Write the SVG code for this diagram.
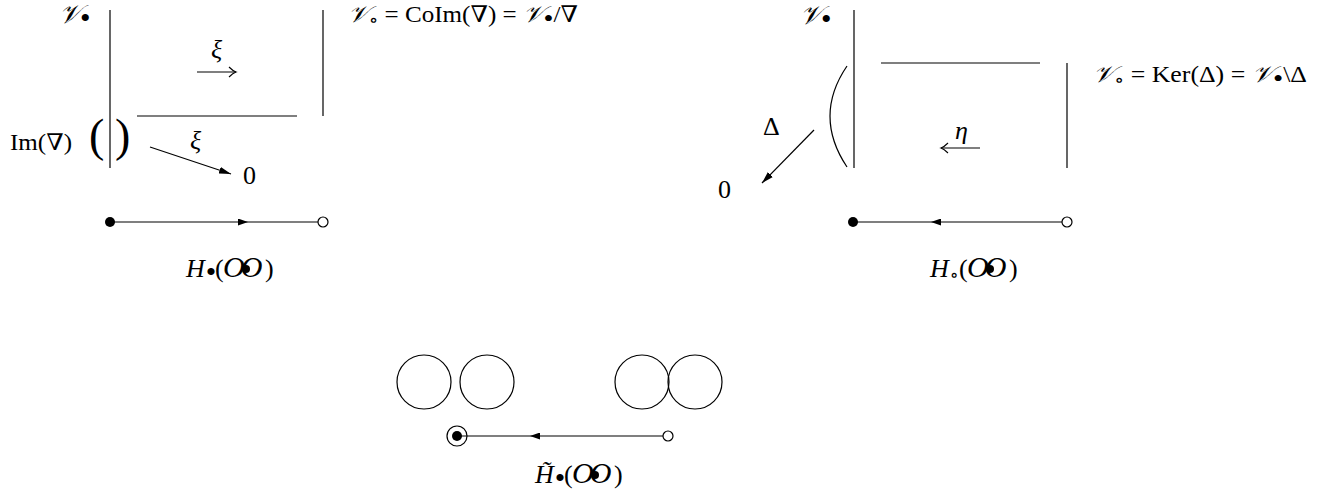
<svg xmlns="http://www.w3.org/2000/svg" width="1320" height="500" viewBox="0 0 1320 500">
<style>
text{font-family:"Liberation Serif","DejaVu Serif",serif;fill:#000}
.big{font-size:26px}
.sm{font-size:23px}
.it{font-style:italic}
.ln{stroke:#000;stroke-width:1.2;fill:none}
.bul{font-size:30px;font-style:normal}
.bs{font-size:26px;font-style:normal}
.ring{font-size:18px;font-style:normal}
.O{font-size:30px;font-style:italic;letter-spacing:-4px}
.circ{stroke:#000;stroke-width:1.2;fill:none}
</style>
<defs>
<marker id="tri" viewBox="0 0 12 8" refX="12" refY="4" markerWidth="12" markerHeight="8" markerUnits="userSpaceOnUse" orient="auto"><path d="M0,0.5 L12,4 L0,7.5 z" fill="#000"/></marker>
<marker id="trim" viewBox="0 0 10 7" refX="10" refY="3.5" markerWidth="10" markerHeight="7" markerUnits="userSpaceOnUse" orient="auto"><path d="M0,0 L10,3.5 L0,7 z" fill="#000"/></marker>
<marker id="hook" viewBox="-9 -6 11 12" refX="0" refY="0" markerWidth="11" markerHeight="12" markerUnits="userSpaceOnUse" orient="auto"><path d="M-7,-5 Q-3,-1 0,0 Q-3,1 -7,5" fill="none" stroke="#000" stroke-width="1.1"/></marker>
</defs>
<rect width="1320" height="500" fill="#fff"/>

<g id="connectors">
<line class="ln" x1="110" y1="10" x2="110" y2="168"/>
<line class="ln" x1="323" y1="10" x2="323" y2="116"/>
<line class="ln" x1="137" y1="116" x2="297" y2="116"/>
<line class="ln" x1="197" y1="72" x2="236" y2="72" marker-end="url(#hook)"/>
<line class="ln" x1="150" y1="147" x2="231" y2="174" marker-end="url(#tri)"/>
<path class="ln" d="M110,222 L248,222 L318,222" marker-mid="url(#trim)"/>
<line class="ln" x1="854" y1="10" x2="854" y2="168"/>
<line class="ln" x1="1067" y1="63" x2="1067" y2="168"/>
<line class="ln" x1="881" y1="63" x2="1040" y2="63"/>
<path class="ln" d="M847,66 Q813,116 847,167"/>
<line class="ln" x1="980" y1="148" x2="941" y2="148" marker-end="url(#hook)"/>
<line class="ln" x1="814" y1="130" x2="762" y2="183" marker-end="url(#tri)"/>
<path class="ln" d="M1062,222 L931,222 L853,222" marker-mid="url(#trim)"/>
<path class="ln" d="M663,436 L530,436 L457,436" marker-mid="url(#trim)"/>
</g>

<g id="left-V">
<text class="big it" x="59" y="23">𝒱<tspan class="bul" dx="-1" dy="5">•</tspan></text>
</g>
<g id="left-xi-top"><text class="big it" x="211" y="58">ξ</text></g>
<g id="left-im">
<text class="sm" x="10" y="150" textLength="62" lengthAdjust="spacingAndGlyphs">Im(∇)</text>
<text x="89" y="151" font-size="46">(</text>
<text x="115" y="151" font-size="46">)</text>
</g>
<g id="left-xi-bottom"><text class="big it" x="190" y="149">ξ</text></g>
<g id="left-zero"><text class="big" x="243" y="184">0</text></g>
<g id="left-coim">
<text class="sm" x="348" y="22" textLength="230" lengthAdjust="spacingAndGlyphs"><tspan class="it">𝒱</tspan><tspan class="ring" dy="4">∘</tspan><tspan dy="-4"> = CoIm(∇) = </tspan><tspan class="it">𝒱</tspan><tspan class="bs" dy="5">•</tspan><tspan dy="-5">/∇</tspan></text>
</g>
<g id="left-H">
<circle cx="110" cy="222" r="5" fill="#000"/>
<circle cx="323" cy="222" r="5" fill="#fff" stroke="#000" stroke-width="1.2"/>
<text class="big" x="186" y="277"><tspan class="it">H</tspan><tspan class="bul" dx="1" dy="5">•</tspan><tspan dy="-5" x="215">(</tspan><tspan class="O" x="223">OO</tspan><tspan x="265">)</tspan></text>
<circle cx="246" cy="269" r="4" fill="#000"/>
</g>

<g id="right-V">
<text class="big it" x="800" y="24">𝒱<tspan class="bul" dx="-1" dy="5">•</tspan></text>
</g>
<g id="right-delta"><text class="big" x="763" y="135">Δ</text></g>
<g id="right-zero"><text class="big" x="718" y="198">0</text></g>
<g id="right-eta"><text class="big it" x="955" y="139">η</text></g>
<g id="right-ker">
<text class="sm" x="1093" y="82" textLength="214" lengthAdjust="spacingAndGlyphs"><tspan class="it">𝒱</tspan><tspan class="ring" dy="4">∘</tspan><tspan dy="-4"> = Ker(Δ) = </tspan><tspan class="it">𝒱</tspan><tspan class="bs" dy="5">•</tspan><tspan dy="-5">\Δ</tspan></text>
</g>
<g id="right-H">
<circle cx="853" cy="222" r="5" fill="#000"/>
<circle cx="1067" cy="222" r="5" fill="#fff" stroke="#000" stroke-width="1.2"/>
<text class="big" x="930" y="277"><tspan class="it">H</tspan><tspan class="ring" dx="1" dy="4">∘</tspan><tspan dy="-4" x="959">(</tspan><tspan class="O" x="967">OO</tspan><tspan x="1009">)</tspan></text>
<circle cx="990" cy="269" r="4" fill="#000"/>
</g>

<g id="bottom">
<circle class="circ" cx="424" cy="382" r="27"/>
<circle class="circ" cx="487" cy="382" r="27"/>
<circle class="circ" cx="642" cy="382" r="27"/>
<circle class="circ" cx="695" cy="382" r="27"/>
<circle cx="457" cy="436" r="5" fill="#000"/>
<circle class="circ" cx="457" cy="436" r="10"/>
<circle cx="668" cy="436" r="5" fill="#fff" stroke="#000" stroke-width="1.2"/>
<text class="big" x="535" y="483"><tspan class="it">H̃</tspan><tspan class="bul" dx="1" dy="5">•</tspan><tspan dy="-5" x="564">(</tspan><tspan class="O" x="572">OO</tspan><tspan x="614">)</tspan></text>
<circle cx="595" cy="475" r="4" fill="#000"/>
</g>
</svg>
